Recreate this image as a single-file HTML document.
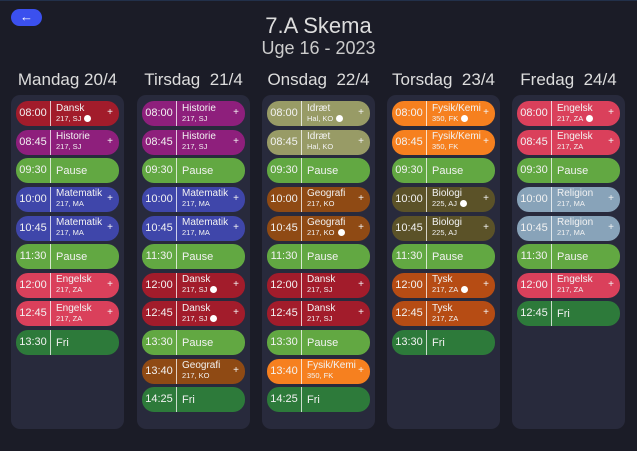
<!DOCTYPE html>
<html><head><meta charset="utf-8"><style>
*{box-sizing:border-box;margin:0;padding:0}
body{width:637px;height:451px;background:#1b1c27;font-family:"Liberation Sans",sans-serif;color:#e8e8ee;position:relative;overflow:hidden;border-top:1px solid #22304a}
.btn{position:absolute;left:11px;top:8px;width:31px;height:17px;background:#3b50ee;border-radius:9px;color:#fff;font-size:13px;text-align:center;line-height:16px}
.t1{position:absolute;left:0;width:637px;text-align:center;top:12px;font-size:22px;color:#ddd}
.t2{position:absolute;left:0;width:637px;text-align:center;top:37px;font-size:18px;color:#ccc}
.col{position:absolute;top:69px;width:113px}
.h{font-size:17px;text-align:center;height:25px;color:#ddd;white-space:nowrap}
.p{background:#282a3c;border-radius:9px;height:334px;padding:6px 5px}
.i{height:25px;margin-bottom:3.65px;border-radius:12px;display:flex;align-items:center;position:relative;color:#f2f2f2}
.tm{width:35px;text-align:center;font-size:11px;border-right:1px solid rgba(255,255,255,.75);height:100%;line-height:25px}
.n{padding-left:5px;font-size:10px;line-height:10px;white-space:nowrap}
.n small{display:block;font-size:7.5px;line-height:10px}
.n.one{font-size:11px}
.pl{position:absolute;right:6px;top:6px;font-size:10px}
.d{display:inline-block;width:7px;height:7px;border-radius:50%;background:#fff;margin-left:3px;vertical-align:-1px}
.Da{background:#a21c2b}.Hi{background:#8e1f7c}.Pa{background:#62a842}.Ma{background:#3f46aa}.En{background:#da405b}.Fr{background:#2d7a3a}.Id{background:#989b66}.Ge{background:#8f4a14}.Fy{background:#f6801f}.Bi{background:#5b5228}.Ty{background:#b64c14}.Re{background:#88a3b9}
</style></head><body>
<div class="btn">←</div>
<div class="t1">7.A Skema</div>
<div class="t2">Uge 16 - 2023</div>

<div class="col" style="left:11px"><div class="h">Mandag 20/4</div><div class="p">
<div class="i Da"><div class="tm">08:00</div><div class="n">Dansk<small>217, SJ<span class="d"></span></small></div><span class="pl">+</span></div>
<div class="i Hi"><div class="tm">08:45</div><div class="n">Historie<small>217, SJ</small></div><span class="pl">+</span></div>
<div class="i Pa"><div class="tm">09:30</div><div class="n one">Pause</div></div>
<div class="i Ma"><div class="tm">10:00</div><div class="n">Matematik<small>217, MA</small></div><span class="pl">+</span></div>
<div class="i Ma"><div class="tm">10:45</div><div class="n">Matematik<small>217, MA</small></div><span class="pl">+</span></div>
<div class="i Pa"><div class="tm">11:30</div><div class="n one">Pause</div></div>
<div class="i En"><div class="tm">12:00</div><div class="n">Engelsk<small>217, ZA</small></div><span class="pl">+</span></div>
<div class="i En"><div class="tm">12:45</div><div class="n">Engelsk<small>217, ZA</small></div><span class="pl">+</span></div>
<div class="i Fr"><div class="tm">13:30</div><div class="n one">Fri</div></div>
</div></div>

<div class="col" style="left:137px"><div class="h">Tirsdag&nbsp; 21/4</div><div class="p">
<div class="i Hi"><div class="tm">08:00</div><div class="n">Historie<small>217, SJ</small></div><span class="pl">+</span></div>
<div class="i Hi"><div class="tm">08:45</div><div class="n">Historie<small>217, SJ</small></div><span class="pl">+</span></div>
<div class="i Pa"><div class="tm">09:30</div><div class="n one">Pause</div></div>
<div class="i Ma"><div class="tm">10:00</div><div class="n">Matematik<small>217, MA</small></div><span class="pl">+</span></div>
<div class="i Ma"><div class="tm">10:45</div><div class="n">Matematik<small>217, MA</small></div><span class="pl">+</span></div>
<div class="i Pa"><div class="tm">11:30</div><div class="n one">Pause</div></div>
<div class="i Da"><div class="tm">12:00</div><div class="n">Dansk<small>217, SJ<span class="d"></span></small></div><span class="pl">+</span></div>
<div class="i Da"><div class="tm">12:45</div><div class="n">Dansk<small>217, SJ<span class="d"></span></small></div><span class="pl">+</span></div>
<div class="i Pa"><div class="tm">13:30</div><div class="n one">Pause</div></div>
<div class="i Ge"><div class="tm">13:40</div><div class="n">Geografi<small>217, KO</small></div><span class="pl">+</span></div>
<div class="i Fr"><div class="tm">14:25</div><div class="n one">Fri</div></div>
</div></div>

<div class="col" style="left:262px"><div class="h">Onsdag&nbsp; 22/4</div><div class="p">
<div class="i Id"><div class="tm">08:00</div><div class="n">Idræt<small>Hal, KO<span class="d"></span></small></div><span class="pl">+</span></div>
<div class="i Id"><div class="tm">08:45</div><div class="n">Idræt<small>Hal, KO</small></div><span class="pl">+</span></div>
<div class="i Pa"><div class="tm">09:30</div><div class="n one">Pause</div></div>
<div class="i Ge"><div class="tm">10:00</div><div class="n">Geografi<small>217, KO</small></div><span class="pl">+</span></div>
<div class="i Ge"><div class="tm">10:45</div><div class="n">Geografi<small>217, KO<span class="d"></span></small></div><span class="pl">+</span></div>
<div class="i Pa"><div class="tm">11:30</div><div class="n one">Pause</div></div>
<div class="i Da"><div class="tm">12:00</div><div class="n">Dansk<small>217, SJ</small></div><span class="pl">+</span></div>
<div class="i Da"><div class="tm">12:45</div><div class="n">Dansk<small>217, SJ</small></div><span class="pl">+</span></div>
<div class="i Pa"><div class="tm">13:30</div><div class="n one">Pause</div></div>
<div class="i Fy"><div class="tm">13:40</div><div class="n">Fysik/Kemi<small>350, FK</small></div><span class="pl">+</span></div>
<div class="i Fr"><div class="tm">14:25</div><div class="n one">Fri</div></div>
</div></div>

<div class="col" style="left:387px"><div class="h">Torsdag&nbsp; 23/4</div><div class="p">
<div class="i Fy"><div class="tm">08:00</div><div class="n">Fysik/Kemi<small>350, FK<span class="d"></span></small></div><span class="pl">+</span></div>
<div class="i Fy"><div class="tm">08:45</div><div class="n">Fysik/Kemi<small>350, FK</small></div><span class="pl">+</span></div>
<div class="i Pa"><div class="tm">09:30</div><div class="n one">Pause</div></div>
<div class="i Bi"><div class="tm">10:00</div><div class="n">Biologi<small>225, AJ<span class="d"></span></small></div><span class="pl">+</span></div>
<div class="i Bi"><div class="tm">10:45</div><div class="n">Biologi<small>225, AJ</small></div><span class="pl">+</span></div>
<div class="i Pa"><div class="tm">11:30</div><div class="n one">Pause</div></div>
<div class="i Ty"><div class="tm">12:00</div><div class="n">Tysk<small>217, ZA<span class="d"></span></small></div><span class="pl">+</span></div>
<div class="i Ty"><div class="tm">12:45</div><div class="n">Tysk<small>217, ZA</small></div><span class="pl">+</span></div>
<div class="i Fr"><div class="tm">13:30</div><div class="n one">Fri</div></div>
</div></div>

<div class="col" style="left:512px"><div class="h">Fredag&nbsp; 24/4</div><div class="p">
<div class="i En"><div class="tm">08:00</div><div class="n">Engelsk<small>217, ZA<span class="d"></span></small></div><span class="pl">+</span></div>
<div class="i En"><div class="tm">08:45</div><div class="n">Engelsk<small>217, ZA</small></div><span class="pl">+</span></div>
<div class="i Pa"><div class="tm">09:30</div><div class="n one">Pause</div></div>
<div class="i Re"><div class="tm">10:00</div><div class="n">Religion<small>217, MA</small></div><span class="pl">+</span></div>
<div class="i Re"><div class="tm">10:45</div><div class="n">Religion<small>217, MA</small></div><span class="pl">+</span></div>
<div class="i Pa"><div class="tm">11:30</div><div class="n one">Pause</div></div>
<div class="i En"><div class="tm">12:00</div><div class="n">Engelsk<small>217, ZA</small></div><span class="pl">+</span></div>
<div class="i Fr"><div class="tm">12:45</div><div class="n one">Fri</div></div>
</div></div>
</body></html>
